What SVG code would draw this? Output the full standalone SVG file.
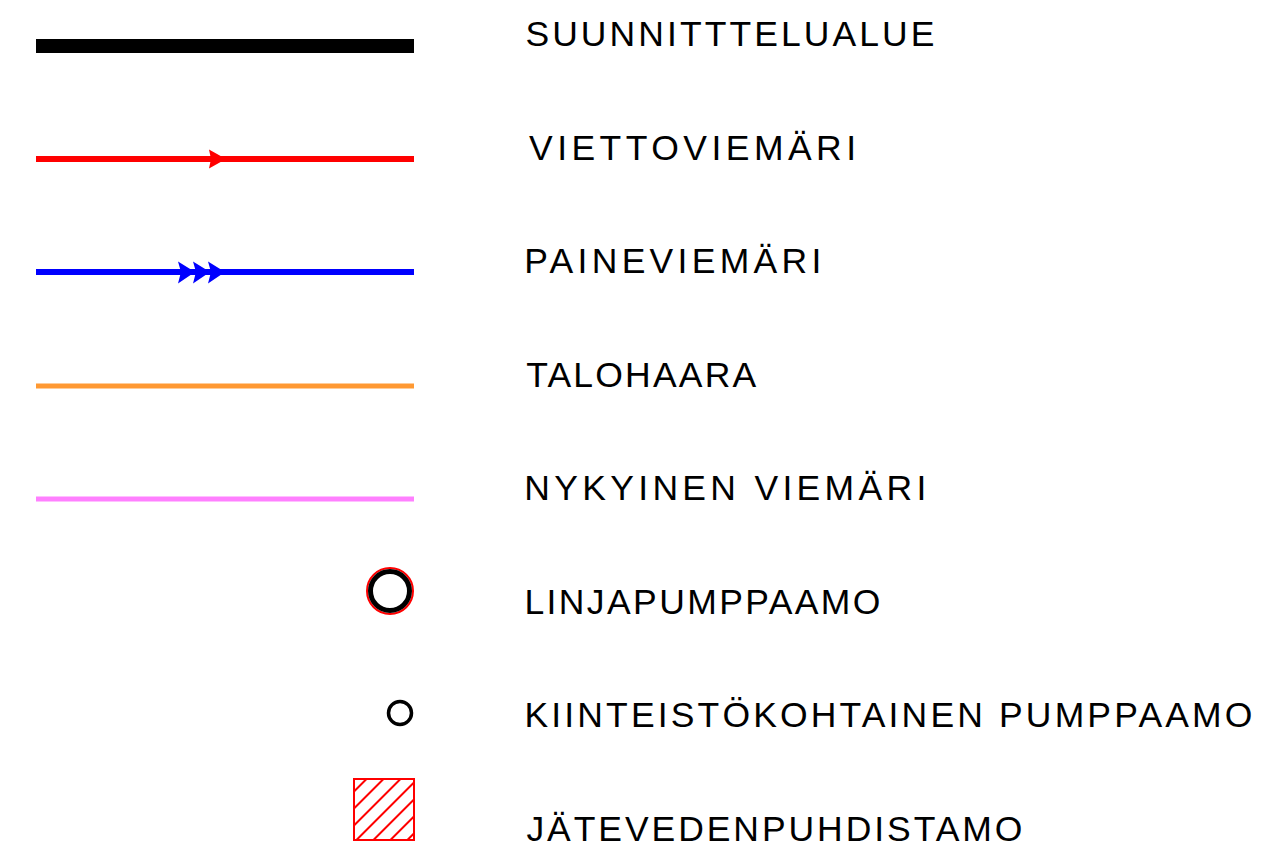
<svg xmlns="http://www.w3.org/2000/svg" width="1272" height="856" viewBox="0 0 1272 856">
<defs>
<style>
.lbl{font-family:"Liberation Sans",Arial,sans-serif;font-size:35.5px;fill:#000}
</style>
<pattern id="hatch" patternUnits="userSpaceOnUse" width="12" height="12" patternTransform="rotate(-45)">
<line x1="0" y1="6" x2="12" y2="6" stroke="#ff0000" stroke-width="2"/>
</pattern>
</defs>
<rect width="1272" height="856" fill="#fff"/>
<g id="legend-lines">
<g id="suunnittelualue"><line x1="36" y1="46" x2="414" y2="46" stroke="#000" stroke-width="14"/></g>
<g id="viettoviemari"><line x1="36" y1="159" x2="414" y2="159" stroke="#ff0000" stroke-width="6"/><polygon points="209,149.5 226,159 209,168.5 211,159" fill="#ff0000"/></g>
<g id="paineviemari"><line x1="36" y1="272" x2="414" y2="272" stroke="#0000ff" stroke-width="6"/><polygon points="178,261.5 195,272 178,283.5 181,272" fill="#0000ff"/><polygon points="193,261.5 210,272 193,283.5 196,272" fill="#0000ff"/><polygon points="208,261.5 225,272 208,283.5 211,272" fill="#0000ff"/></g>
<g id="talohaara"><line x1="36" y1="386" x2="414" y2="386" stroke="#ff9933" stroke-width="5"/></g>
<g id="nykyinen"><line x1="36" y1="499" x2="414" y2="499" stroke="#ff80ff" stroke-width="5"/></g>
</g>
<g id="linjapumppaamo"><circle cx="390" cy="591" r="23" fill="#fff" stroke="#ff0000" stroke-width="2"/><circle cx="390" cy="591" r="19.5" fill="none" stroke="#000" stroke-width="5"/></g>
<g id="kiinteisto"><circle cx="400" cy="713" r="11.5" fill="#fff" stroke="#000" stroke-width="3.5"/></g>
<g id="jatevedenpuhdistamo"><rect x="354" y="779" width="60" height="61" fill="url(#hatch)" stroke="#ff0000" stroke-width="2"/></g>
<g id="labels">
<text class="lbl" x="525.4" y="46" textLength="409" lengthAdjust="spacing">SUUNNITTTELUALUE</text>
<text class="lbl" x="529" y="160" textLength="327" lengthAdjust="spacing">VIETTOVIEMÄRI</text>
<text class="lbl" x="524.3" y="273" textLength="297" lengthAdjust="spacing">PAINEVIEMÄRI</text>
<text class="lbl" x="526.2" y="387" textLength="230" lengthAdjust="spacing">TALOHAARA</text>
<text class="lbl" x="524.3" y="500" textLength="402" lengthAdjust="spacing">NYKYINEN VIEMÄRI</text>
<text class="lbl" x="524.4" y="614" textLength="356" lengthAdjust="spacing">LINJAPUMPPAAMO</text>
<text class="lbl" x="524.4" y="727" textLength="728" lengthAdjust="spacing">KIINTEISTÖKOHTAINEN PUMPPAAMO</text>
<text class="lbl" x="526.4" y="841" textLength="496" lengthAdjust="spacing">JÄTEVEDENPUHDISTAMO</text>
</g>
</svg>
